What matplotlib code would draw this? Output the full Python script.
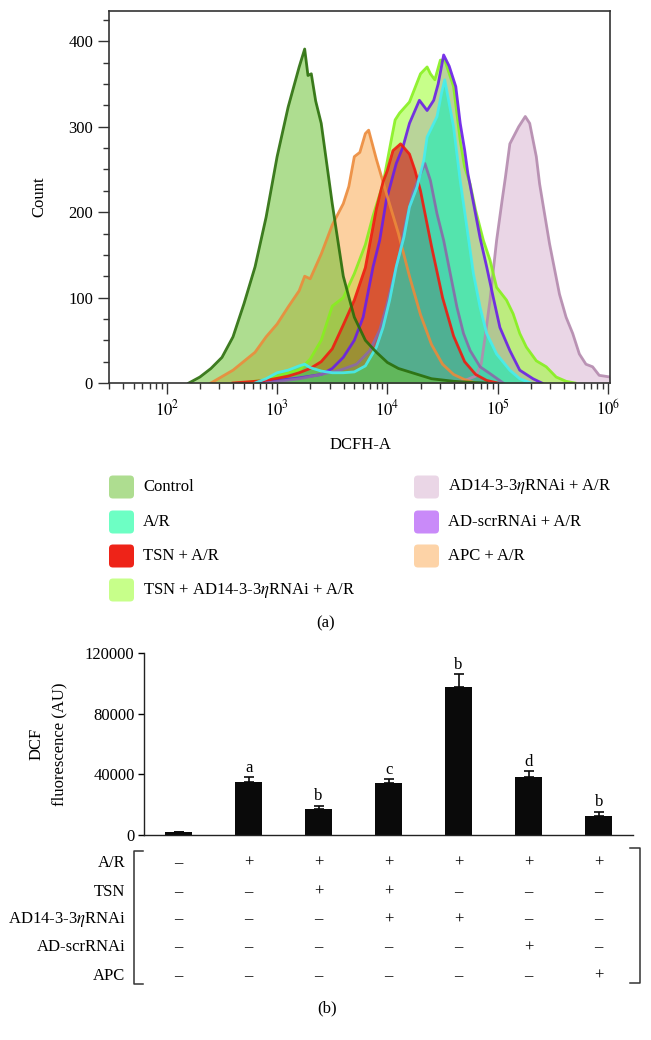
import numpy as np
import matplotlib
matplotlib.use('Agg')
import matplotlib.pyplot as plt
from matplotlib.patches import FancyBboxPatch
from matplotlib.lines import Line2D
from matplotlib.ticker import LogLocator, MultipleLocator, NullFormatter
from matplotlib.transforms import blended_transform_factory

plt.rcParams['font.family'] = ['Liberation Serif', 'DejaVu Serif']
plt.rcParams['mathtext.fontset'] = 'stix'
plt.rcParams['font.size'] = 12

# ---- panel (a): flow cytometry histograms (log10 of DCFH-A, count) ----
control_log = [2.2, 2.3, 2.4, 2.5, 2.6, 2.7, 2.8, 2.9, 3.0, 3.1, 3.2, 3.25, 3.28, 3.31, 3.35, 3.4, 3.5,
               3.6, 3.7, 3.8, 3.9, 4.0, 4.1, 4.2, 4.3, 4.4, 4.5, 4.6, 4.8, 4.9]
control_cnt = [0, 7, 17, 30, 54, 93, 136, 194, 265, 323, 370, 391, 360, 362, 330, 304, 210,
               125, 77, 50, 36, 24, 17, 13, 9, 5, 3.5, 2, 0.5, 0]

orange_log = [2.4, 2.6, 2.8, 2.9, 3.0, 3.1, 3.2, 3.25, 3.3, 3.4, 3.5, 3.6, 3.65, 3.7, 3.75, 3.8, 3.83,
              3.9, 4.0, 4.1, 4.2, 4.3, 4.4, 4.5, 4.6, 4.7, 4.8]
orange_cnt = [0, 15, 36, 54, 69, 89, 108, 125, 122, 151, 185, 210, 230, 265, 270, 292, 296,
              262, 218, 175, 125, 80, 45, 22, 10, 4, 0]

red_log = [2.6, 2.9, 3.1, 3.2, 3.3, 3.4, 3.5, 3.6, 3.7, 3.8, 3.9, 3.96, 4.0, 4.05, 4.12, 4.2, 4.25,
           4.3, 4.4, 4.5, 4.6, 4.7, 4.8, 4.9, 5.0]
red_cnt = [0, 3, 8, 12, 17, 25, 40, 68, 97, 135, 204, 235, 249, 272, 280, 268, 249,
           225, 160, 100, 55, 25, 10, 3, 0]

lime_log = [2.7, 2.9, 3.0, 3.1, 3.2, 3.3, 3.4, 3.5, 3.6, 3.7, 3.8, 3.87, 3.96, 4.04, 4.07, 4.11, 4.2,
            4.3, 4.36, 4.39, 4.43, 4.48, 4.52, 4.6, 4.66, 4.7, 4.75, 4.8, 4.87, 4.93, 4.99, 5.08,
            5.14, 5.2, 5.26, 5.35, 5.44, 5.53, 5.62, 5.7]
lime_cnt = [0, 4, 8, 12, 15, 28, 50, 90, 100, 128, 162, 196, 233, 288, 308, 316, 329,
            362, 370, 362, 355, 378, 378, 347, 284, 253, 233, 202, 167, 144, 112, 97,
            81, 58, 42, 26, 19, 7, 2, 0]

purple_log = [2.8, 3.0, 3.2, 3.4, 3.5, 3.6, 3.7, 3.78, 3.87, 3.93, 3.99, 4.08, 4.14, 4.2, 4.29, 4.36,
              4.42, 4.46, 4.51, 4.56, 4.62, 4.66, 4.7, 4.73, 4.84, 4.9, 4.96, 5.02, 5.11, 5.2, 5.32, 5.4]
purple_cnt = [0, 3, 6, 10, 17, 30, 50, 77, 136, 167, 214, 257, 276, 304, 331, 319,
              331, 350, 384, 371, 347, 304, 273, 245, 170, 136, 100, 65, 38, 15, 5, 0]

cyan_log = [2.8, 2.9, 3.0, 3.1, 3.2, 3.25, 3.3, 3.4, 3.5, 3.6, 3.7, 3.8, 3.9, 3.96, 4.02, 4.08, 4.15,
            4.2, 4.27, 4.33, 4.36, 4.39, 4.45, 4.49, 4.52, 4.6, 4.66, 4.72, 4.78, 4.84, 4.9, 4.99,
            5.11, 5.2, 5.3]
cyan_cnt = [0, 5, 12, 15, 20, 22, 18, 14, 12, 12, 13, 20, 42, 65, 97, 136, 171,
            206, 230, 261, 288, 296, 312, 339, 355, 300, 237, 183, 128, 89, 58, 34,
            15, 5, 0]

# unlabelled trace visible in the overlay (greyish purple outline)
extra_log = [2.9, 3.2, 3.4, 3.57, 3.72, 3.84, 3.93, 3.99, 4.05, 4.11, 4.17, 4.23, 4.3, 4.34, 4.39,
             4.45, 4.51, 4.57, 4.63, 4.69, 4.75, 4.84, 4.93, 5.05]
extra_cnt = [0, 5, 10, 15, 22, 38, 62, 89, 120, 151, 190, 222, 245, 257, 237,
             198, 167, 128, 89, 58, 38, 19, 11, 0]

pink_log = [4.6, 4.7, 4.8, 4.85, 4.89, 4.93, 4.99, 5.04, 5.07, 5.11, 5.19, 5.25, 5.29, 5.35, 5.38,
            5.43, 5.47, 5.56, 5.62, 5.68, 5.74, 5.8, 5.86, 5.92, 6.02]
pink_cnt = [0, 3, 8, 22, 58, 97, 167, 214, 241, 280, 300, 312, 304, 265, 233,
            194, 163, 104, 77, 58, 34, 22, 19, 9, 7]

legend_labels = ['Control', 'A/R', 'TSN + A/R', 'TSN + AD14-3-3$\\eta$RNAi + A/R',
                 'AD14-3-3$\\eta$RNAi + A/R', 'AD-scrRNAi + A/R', 'APC + A/R']
legend_colors = ['#aedd90', '#6dffc4', '#ee2318', '#c7ff8a', '#ead6e6', '#c98af9', '#fdd3a7']

# ---- panel (b): DCF fluorescence ----
bar_vals = [1800, 34700, 17000, 34300, 97900, 38200, 12400]
bar_err = [300, 3500, 2400, 2400, 8200, 3800, 2900]
bar_letters = ['', 'a', 'b', 'c', 'b', 'd', 'b']
table_rows = ['A/R', 'TSN', 'AD14-3-3$\\eta$RNAi', 'AD-scrRNAi', 'APC']
table_signs = ['-++++++',
               '--++---',
               '---++--',
               '-----+-',
               '------+']

W, H = 651, 1040
fig = plt.figure(figsize=(W / 100, H / 100), dpi=100)

def fx(px):
    return px / W

def fy(py):
    return 1 - py / H

def deep(hexcol, a):
    # colour that gives hexcol over white at opacity a (darker overlaps)
    rgb = np.array(matplotlib.colors.to_rgb(hexcol))
    return tuple(np.clip(1 - (1 - rgb) / a, 0, 1))

# ---------- panel (a) ----------
ax = fig.add_axes([fx(109), fy(383), fx(610) - fx(109), fy(11) - fy(383)])

A = 0.55
traces = [
    (pink_log, pink_cnt, deep('#ead6e6', 0.8), 0.8, '#b48aae'),
    (lime_log, lime_cnt, deep('#c7ff8a', A), A, '#86f01e'),
    (purple_log, purple_cnt, (0.6, 0.45, 0.75), 0.3, '#6a1ee8'),
    (orange_log, orange_cnt, deep('#fdd0a0', A), A, '#ec8a3a'),
    (red_log, red_cnt, deep('#e85a48', A), A, '#f01a10'),
    (extra_log, extra_cnt, (0.45, 0.4, 0.6), 0.3, '#8a6aa8'),
    (cyan_log, cyan_cnt, deep('#74f8dc', A), A, '#44eef0'),
    (control_log, control_cnt, deep('#aedd90', A), A, '#2a6e0a'),
]
for lg, cnt, fc, a, ec in traces:
    xs = 10 ** np.array(lg)
    ax.fill_between(xs, cnt, 0, color=fc, alpha=a, lw=0)
    ax.plot(xs, cnt, color=ec, lw=2, alpha=0.9)

ax.set_xscale('log')
ax.set_xlim(10 ** 1.476, 10 ** 6.018)
ax.set_ylim(0, 435.5)
ax.xaxis.set_major_locator(LogLocator(base=10, numticks=10))
ax.xaxis.set_minor_locator(LogLocator(base=10, subs=np.arange(2, 10), numticks=20))
ax.xaxis.set_minor_formatter(NullFormatter())
ax.set_xticks([1e2, 1e3, 1e4, 1e5, 1e6])
ax.set_xticklabels(['$10^2$', '$10^3$', '$10^4$', '$10^5$', '$10^6$'])
ax.set_yticks([0, 100, 200, 300, 400])
ax.yaxis.set_minor_locator(MultipleLocator(25))
ax.tick_params(which='major', direction='out', length=8, width=1, color='#333333', labelsize=12)
ax.tick_params(which='minor', direction='out', length=4, width=1, color='#333333')
for sp in ax.spines.values():
    sp.set_color('#333333')
    sp.set_linewidth(1.2)
ax.set_ylabel('Count', fontsize=12)
ax.yaxis.set_label_coords((47 - 109) / 501, 0.5)
fig.text(fx(360), fy(445), 'DCFH-A', ha='center', va='center', fontsize=12)

# legend
for i, (lab, col) in enumerate(zip(legend_labels, legend_colors)):
    c, r = divmod(i, 4)
    x0 = 109 if c == 0 else 414
    yc = [487, 522, 556, 590][r]
    box = FancyBboxPatch((fx(x0), fy(yc + 11.5)), fx(25), 23 / H,
                         boxstyle='round,pad=0,rounding_size=0.006',
                         mutation_aspect=W / H, transform=fig.transFigure,
                         facecolor=col, edgecolor='none')
    fig.patches.append(box)
    fig.text(fx(x0 + 34), fy(yc), lab, ha='left', va='center', fontsize=12)

fig.text(fx(326), fy(623), '(a)', ha='center', va='center', fontsize=12)

# ---------- panel (b) ----------
bx = fig.add_axes([fx(144.3), fy(835), fx(633) - fx(144.3), fy(653.3) - fy(835)])
xpos = np.arange(len(bar_vals))
bx.bar(xpos, bar_vals, width=0.39, color='#0a0a0a')
bx.errorbar(xpos, bar_vals, yerr=[np.zeros(len(bar_err)), bar_err], fmt='none',
            ecolor='#0a0a0a', elinewidth=1.2, capsize=3.5, capthick=1.2)
for xi, v, e, t in zip(xpos, bar_vals, bar_err, bar_letters):
    if t:
        bx.annotate(t, (xi, v + e), xytext=(0, 1), textcoords='offset points',
                    ha='center', va='bottom', fontsize=12)
bx.set_xlim(-0.49, 6.49)
bx.set_ylim(0, 120000)
bx.set_yticks([0, 40000, 80000, 120000])
bx.set_yticklabels(['0', '40000', '80000', '120000'])
bx.set_xticks([])
bx.spines['top'].set_visible(False)
bx.spines['right'].set_visible(False)
for sp in ['left', 'bottom']:
    bx.spines[sp].set_color('#222222')
    bx.spines[sp].set_linewidth(1)
bx.tick_params(axis='y', direction='out', length=4, width=1, labelsize=12, pad=3)
bx.set_ylabel('DCF\nfluorescence (AU)', fontsize=12, linespacing=1.55)
bx.yaxis.set_label_coords((67 - 144.3) / (633 - 144.3), 0.5)

# treatment table
trans = blended_transform_factory(bx.transData, fig.transFigure)
row_y = [863, 891.7, 919.3, 947.3, 975.7]
for lab, signs, yy in zip(table_rows, table_signs, row_y):
    fig.text(fx(125.5), fy(yy), lab, ha='right', va='center', fontsize=12)
    for xi, s in zip(xpos, signs):
        bx.text(xi, fy(yy), '+' if s == '+' else '\u2013', transform=trans,
                ha='center', va='center', fontsize=12, clip_on=False)

# brackets
def bracket(x, x_hook, y0, y1):
    pts_x = [fx(x_hook), fx(x), fx(x), fx(x_hook)]
    pts_y = [fy(y0), fy(y0), fy(y1), fy(y1)]
    fig.lines.append(Line2D(pts_x, pts_y, transform=fig.transFigure, color='#333333', lw=1.1))

bracket(134, 143, 851, 984)
bracket(640, 630, 848, 983)

fig.text(fx(327), fy(1008), '(b)', ha='center', va='center', fontsize=12)

fig.savefig('out.png', dpi=100)
